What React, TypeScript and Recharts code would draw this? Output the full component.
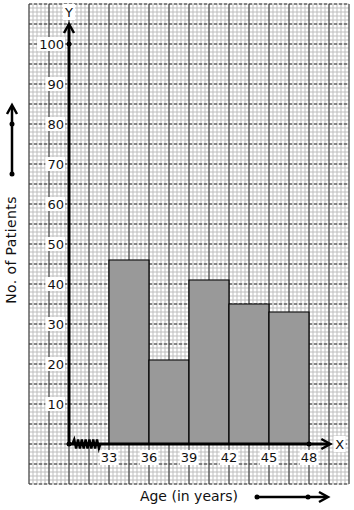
import React from "react";
import {
  ComposedChart,
  Bar,
  XAxis,
  YAxis,
  CartesianGrid,
  ReferenceLine,
  ReferenceDot,
} from "recharts";

// Histogram data: age classes and number of patients
const ageBins = ["33-36", "36-39", "39-42", "42-45", "45-48"];
const binMids = [34.5, 37.5, 40.5, 43.5, 46.5];
const patients = [46, 21, 41, 35, 33];
const ageTicks = [33, 36, 39, 42, 45, 48];
const countTicks = [10, 20, 30, 40, 50, 60, 70, 80, 90, 100];

// empty classes so the graph paper extends on both sides
const leftPad = ["27-30", "30-33"];
const leftPadMids = [28.5, 31.5];
const rightPad = ["48-51"];
const rightPadMids = [49.5];

const chartData = [
  ...leftPad.map((bin, i) => ({ bin, mid: leftPadMids[i], patients: null as number | null })),
  ...ageBins.map((bin, i) => ({ bin, mid: binMids[i], patients: patients[i] })),
  ...rightPad.map((bin, i) => ({ bin, mid: rightPadMids[i], patients: null as number | null })),
];

const FONT = "DejaVu Sans, Verdana, sans-serif";

// graph paper lines (1mm = 4px)
const range = (start: number, end: number, step: number) => {
  const out: number[] = [];
  const n = Math.round((end - start) / step);
  for (let i = 0; i <= n; i++) out.push(+(start + i * step).toFixed(3));
  return out;
};
const minorX = range(27, 51, 0.3);
const majorX = range(27, 51, 1.5);
const minorY = range(-10, 110, 1);
const majorY = range(-10, 110, 5);

const XTick = ({ x, payload }: any) => {
  const label = String(payload.value);
  const w = label.length * 8.3 + 2;
  return (
    <g>
      <rect x={x - w / 2} y={450} width={w} height={15} fill="#fff" />
      <text x={x} y={462} textAnchor="middle" fontFamily={FONT} fontSize={13} fill="#111">
        {label}
      </text>
    </g>
  );
};

const YTick = ({ y, payload }: any) => {
  const label = String(payload.value);
  const w = label.length * 8.3 + 2;
  return (
    <g>
      <rect x={64 - w} y={y - 7} width={w + 1} height={14} fill="#fff" />
      <text x={64} y={y + 5} textAnchor="end" fontFamily={FONT} fontSize={13} fill="#111">
        {label}
      </text>
    </g>
  );
};

const Dot = ({ cx, cy }: any) => <circle cx={cx} cy={cy} r={2.5} fill="#000" />;

const ArrowUp = ({ cx, cy }: any) => (
  <path
    d={`M${cx - 5},${cy + 9} L${cx},${cy} L${cx + 5},${cy + 9}`}
    fill="none"
    stroke="#000"
    strokeWidth={2.5}
  />
);

const ArrowRight = ({ cx, cy }: any) => (
  <path
    d={`M${cx - 9},${cy - 5} L${cx},${cy} L${cx - 9},${cy + 5}`}
    fill="none"
    stroke="#000"
    strokeWidth={2.5}
  />
);

// kink on the x axis (axis does not start at 0)
const Kink = ({ cx, cy }: any) => {
  let d = `M${cx - 14},${cy}`;
  for (let i = 0; i < 7; i++) {
    const x0 = cx - 13 + i * 3.8;
    d += ` L${x0 + 0.9},${cy - 4.5} L${x0 + 2.8},${cy + 4.5}`;
  }
  d += ` L${cx + 14},${cy}`;
  return <path d={d} fill="none" stroke="#000" strokeWidth={2.4} />;
};

const AxisLetter = (letter: string) => ({ cx, cy }: any) => (
  <g>
    <rect x={cx - 6} y={cy - 8} width={12} height={16} fill="#fff" />
    <text x={cx} y={cy + 5} textAnchor="middle" fontFamily={FONT} fontSize={13} fill="#111">
      {letter}
    </text>
  </g>
);

export default function App() {
  return (
    <div style={{ position: "absolute", left: 0, top: 0, width: 354, height: 510, background: "#fff" }}>
      <ComposedChart
        width={354}
        height={510}
        data={chartData}
        margin={{ top: 4, right: 5, bottom: 25, left: 28 }}
        barCategoryGap={0}
        barGap={0}
      >
        <XAxis xAxisId="cat" dataKey="bin" hide />
        <XAxis
          xAxisId="num"
          dataKey="mid"
          type="number"
          domain={[27, 51]}
          allowDataOverflow
          ticks={ageTicks}
          height={1}
          axisLine={false}
          tickLine={false}
          tick={<XTick />}
          interval={0}
        />
        <YAxis
          yAxisId="y"
          type="number"
          domain={[-10, 110]}
          allowDataOverflow
          ticks={countTicks}
          width={1}
          axisLine={false}
          tickLine={false}
          tick={<YTick />}
          interval={0}
        />

        {/* graph paper */}
        <CartesianGrid
          xAxisId="num"
          yAxisId="y"
          verticalValues={minorX}
          horizontalValues={minorY}
          stroke="#bdbdbd"
          strokeWidth={1}
        />
        <CartesianGrid
          xAxisId="num"
          yAxisId="y"
          verticalValues={majorX}
          horizontal={false}
          stroke="#333"
          strokeWidth={1}
        />
        <CartesianGrid
          xAxisId="num"
          yAxisId="y"
          vertical={false}
          horizontalValues={majorY}
          stroke="#333"
          strokeWidth={1}
          strokeDasharray="3 2"
        />

        <Bar
          xAxisId="cat"
          yAxisId="y"
          dataKey="patients"
          fill="#999999"
          stroke="#000"
          strokeWidth={1.2}
          isAnimationActive={false}
        />

        {/* axes */}
        <ReferenceLine
          xAxisId="num"
          yAxisId="y"
          segment={[{ x: 30, y: 0 }, { x: 30, y: 105 }]}
          stroke="#000"
          strokeWidth={3}
        />
        <ReferenceLine
          xAxisId="num"
          yAxisId="y"
          segment={[{ x: 30, y: 0 }, { x: 49.5, y: 0 }]}
          stroke="#000"
          strokeWidth={3}
        />
        <ReferenceDot xAxisId="num" yAxisId="y" x={31.3} y={0} shape={<Kink />} />
        <ReferenceDot xAxisId="num" yAxisId="y" x={30} y={105} shape={<ArrowUp />} />
        <ReferenceDot xAxisId="num" yAxisId="y" x={49.6} y={0} shape={<ArrowRight />} />
        <ReferenceDot xAxisId="num" yAxisId="y" x={30} y={0} shape={<Dot />} />
        <ReferenceDot xAxisId="num" yAxisId="y" x={30} y={100} shape={<Dot />} />
        <ReferenceDot xAxisId="num" yAxisId="y" x={48} y={0} shape={<Dot />} />
        <ReferenceDot xAxisId="num" yAxisId="y" x={50.3} y={0} shape={AxisLetter("X")} />
        <ReferenceDot xAxisId="num" yAxisId="y" x={30} y={108} shape={AxisLetter("Y")} />
      </ComposedChart>

      {/* axis titles with direction arrows */}
      <svg
        width={354}
        height={510}
        style={{ position: "absolute", left: 0, top: 0, pointerEvents: "none" }}
      >
        <text
          x={16}
          y={250}
          transform="rotate(-90 16 250)"
          textAnchor="middle"
          fontFamily={FONT}
          fontSize={14}
          letterSpacing={0.4}
          fill="#111"
        >
          No. of Patients
        </text>
        <line x1={12} y1={174} x2={12} y2={106} stroke="#000" strokeWidth={2.5} />
        <path d="M7,114 L12,105 L17,114" fill="none" stroke="#000" strokeWidth={2.5} />
        <circle cx={12} cy={174} r={2.5} fill="#000" />
        <circle cx={12} cy={124} r={2.5} fill="#000" />

        <text x={189} y={501} textAnchor="middle" fontFamily={FONT} fontSize={14} fill="#111">
          Age (in years)
        </text>
        <line x1={257} y1={497} x2={327} y2={497} stroke="#000" strokeWidth={2.5} />
        <path d="M319,492 L328,497 L319,502" fill="none" stroke="#000" strokeWidth={2.5} />
        <circle cx={257} cy={497} r={2.5} fill="#000" />
        <circle cx={308} cy={497} r={2.5} fill="#000" />
      </svg>
    </div>
  );
}
